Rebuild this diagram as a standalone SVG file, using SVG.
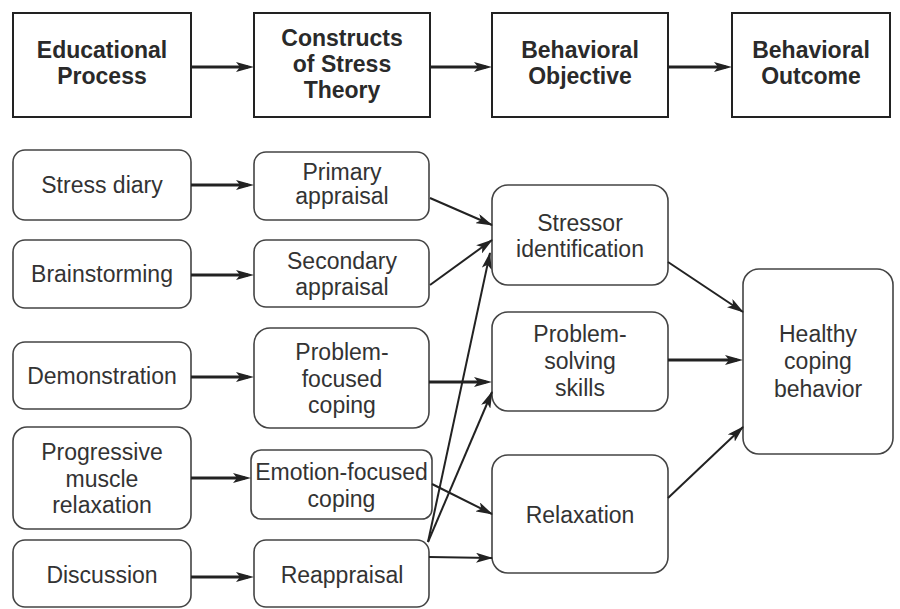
<svg xmlns="http://www.w3.org/2000/svg" width="900" height="609" viewBox="0 0 900 609">
  <defs>
    <style>
      .hdr rect { fill: #fff; stroke: #222; stroke-width: 2; }
      .hdr text { font-family: "Liberation Sans", Arial, sans-serif; font-weight: bold; font-size: 23px; fill: #2a2a2a; text-anchor: middle; }
      .node rect { fill: #fff; stroke: #444; stroke-width: 1.6; }
      .node text { font-family: "Liberation Sans", Arial, sans-serif; font-size: 23px; fill: #333; text-anchor: middle; }
      .thick { stroke: #222; stroke-width: 3; fill: none; marker-end: url(#headThick); }
      .thin { stroke: #222; stroke-width: 2; fill: none; marker-end: url(#headThin); }
    </style>
    <marker id="headThick" markerUnits="userSpaceOnUse" markerWidth="18" markerHeight="10" refX="12" refY="5" orient="auto">
      <path d="M0,0 L18,5 L0,10 L4,5 Z" fill="#222"/>
    </marker>
    <marker id="headThin" markerUnits="userSpaceOnUse" markerWidth="17" markerHeight="10" refX="16" refY="5" orient="auto">
      <path d="M0,0 L17,5 L0,10 L4,5 Z" fill="#222"/>
    </marker>
  </defs>
  <rect width="900" height="609" fill="#fff"/>

  <!-- column headers -->
  <g id="h-educational" class="hdr">
    <rect x="13" y="13" width="178" height="104"/>
    <text x="102" y="58">Educational</text>
    <text x="102" y="84">Process</text>
  </g>
  <g id="h-constructs" class="hdr">
    <rect x="254" y="13" width="176" height="104"/>
    <text x="342" y="46">Constructs</text>
    <text x="342" y="72">of Stress</text>
    <text x="342" y="98">Theory</text>
  </g>
  <g id="h-objective" class="hdr">
    <rect x="492" y="13" width="176" height="104"/>
    <text x="580" y="58">Behavioral</text>
    <text x="580" y="84">Objective</text>
  </g>
  <g id="h-outcome" class="hdr">
    <rect x="732" y="13" width="158" height="104"/>
    <text x="811" y="58">Behavioral</text>
    <text x="811" y="84">Outcome</text>
  </g>

  <!-- educational process -->
  <g id="stress-diary" class="node">
    <rect x="13" y="150" width="178" height="70" rx="12"/>
    <text x="102" y="193">Stress diary</text>
  </g>
  <g id="brainstorming" class="node">
    <rect x="13" y="240" width="178" height="68" rx="12"/>
    <text x="102" y="282">Brainstorming</text>
  </g>
  <g id="demonstration" class="node">
    <rect x="13" y="342" width="178" height="67" rx="12"/>
    <text x="102" y="384">Demonstration</text>
  </g>
  <g id="pmr" class="node">
    <rect x="13" y="427" width="178" height="102" rx="14"/>
    <text x="102" y="460">Progressive</text>
    <text x="102" y="487">muscle</text>
    <text x="102" y="513">relaxation</text>
  </g>
  <g id="discussion" class="node">
    <rect x="13" y="540" width="178" height="67" rx="12"/>
    <text x="102" y="583">Discussion</text>
  </g>

  <!-- constructs of stress theory -->
  <g id="primary" class="node">
    <rect x="254" y="152" width="175" height="68" rx="12"/>
    <text x="342" y="180">Primary</text>
    <text x="342" y="204">appraisal</text>
  </g>
  <g id="secondary" class="node">
    <rect x="254" y="240" width="175" height="67" rx="12"/>
    <text x="342" y="269">Secondary</text>
    <text x="342" y="295">appraisal</text>
  </g>
  <g id="problem-focused" class="node">
    <rect x="254" y="328" width="175" height="100" rx="16"/>
    <text x="342" y="360">Problem-</text>
    <text x="342" y="387">focused</text>
    <text x="342" y="413">coping</text>
  </g>
  <g id="emotion-focused" class="node">
    <rect x="251" y="450" width="181" height="69" rx="10"/>
    <text x="341.5" y="480">Emotion-focused</text>
    <text x="341.5" y="507">coping</text>
  </g>
  <g id="reappraisal" class="node">
    <rect x="254" y="540" width="175" height="67" rx="12"/>
    <text x="342" y="583">Reappraisal</text>
  </g>

  <!-- behavioral objectives -->
  <g id="stressor-id" class="node">
    <rect x="492" y="185" width="176" height="100" rx="16"/>
    <text x="580" y="231">Stressor</text>
    <text x="580" y="257">identification</text>
  </g>
  <g id="problem-solving" class="node">
    <rect x="492" y="312" width="176" height="99" rx="16"/>
    <text x="580" y="342">Problem-</text>
    <text x="580" y="369">solving</text>
    <text x="580" y="396">skills</text>
  </g>
  <g id="relaxation" class="node">
    <rect x="492" y="455" width="176" height="118" rx="16"/>
    <text x="580" y="523">Relaxation</text>
  </g>

  <!-- behavioral outcome -->
  <g id="healthy" class="node">
    <rect x="743" y="269" width="150" height="185" rx="16"/>
    <text x="818" y="342">Healthy</text>
    <text x="818" y="369">coping</text>
    <text x="818" y="397">behavior</text>
  </g>

  <!-- connectors -->
  <g id="connectors">
    <line class="thick" x1="191" y1="67" x2="248" y2="67"/>
    <line class="thick" x1="430" y1="67" x2="486" y2="67"/>
    <line class="thick" x1="668" y1="67" x2="726" y2="67"/>

    <line class="thick" x1="191" y1="185" x2="248" y2="185"/>
    <line class="thick" x1="191" y1="275" x2="248" y2="275"/>
    <line class="thick" x1="191" y1="377" x2="248" y2="377"/>
    <line class="thick" x1="191" y1="478" x2="245" y2="478"/>
    <line class="thick" x1="191" y1="577" x2="248" y2="577"/>

    <line class="thin" x1="430" y1="198" x2="492" y2="225"/>
    <line class="thin" x1="430" y1="285" x2="492" y2="240"/>
    <line class="thick" x1="429" y1="382" x2="486" y2="382"/>
    <line class="thin" x1="432" y1="484" x2="492" y2="514"/>
    <line class="thin" x1="428" y1="542" x2="490" y2="253"/>
    <line class="thin" x1="428" y1="542" x2="492" y2="392"/>
    <line class="thin" x1="429" y1="557" x2="492" y2="558"/>

    <line class="thin" x1="668" y1="262" x2="743" y2="312"/>
    <line class="thick" x1="668" y1="360" x2="737" y2="360"/>
    <line class="thin" x1="668" y1="498" x2="743" y2="427"/>
  </g>
</svg>
